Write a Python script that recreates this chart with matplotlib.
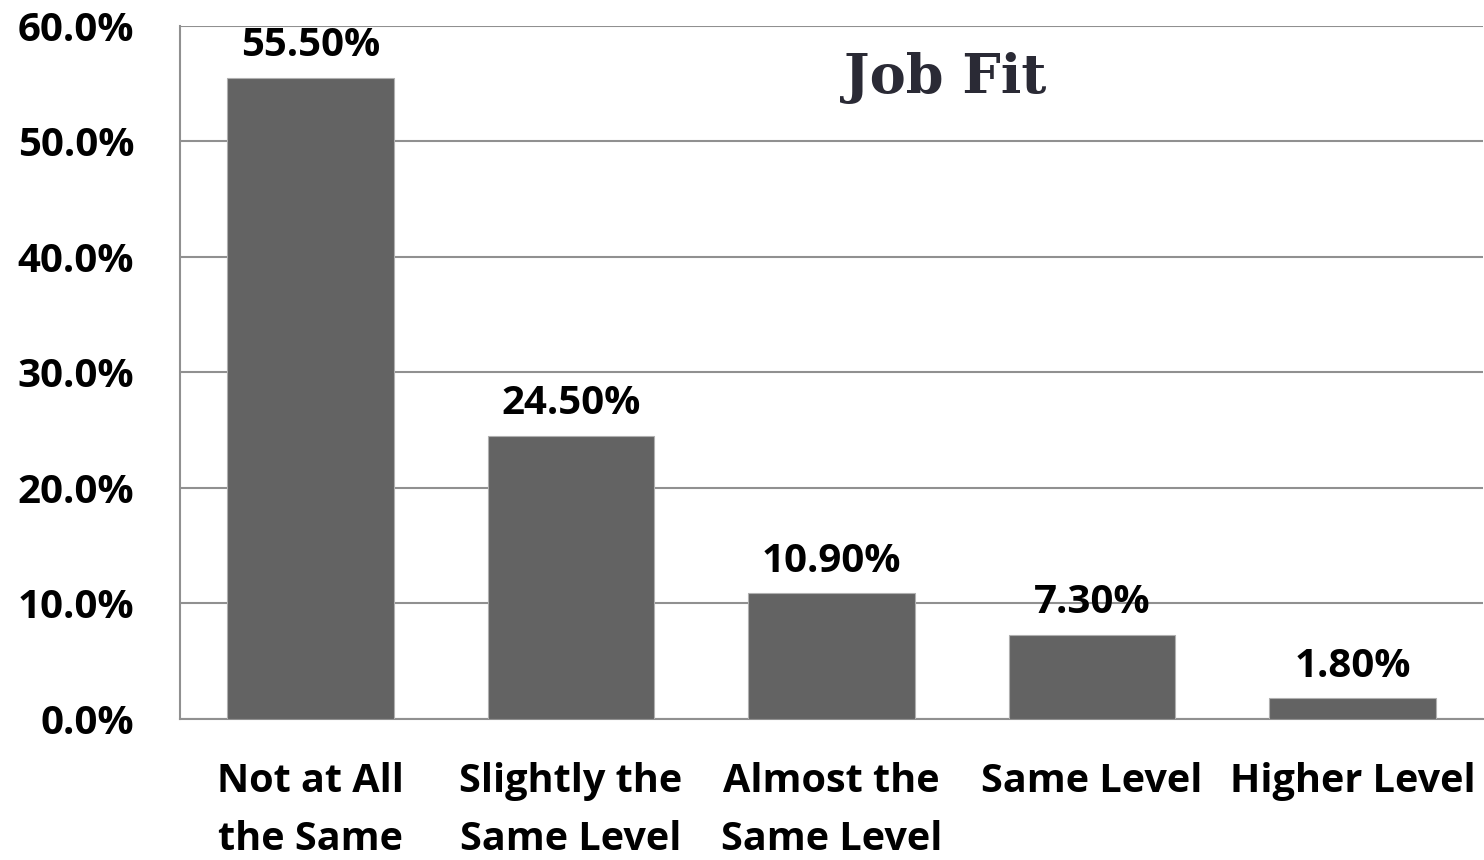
import numpy as np
import matplotlib.pyplot as plt
from matplotlib.ticker import FuncFormatter

# 数据
categories = ["Not at All\nthe Same", "Slightly the\nSame Level", "Almost the\nSame Level",
              "Same Level", "Higher Level"]
values = [55.5, 24.5, 10.9, 7.3, 1.8]
value_labels = ["55.50%", "24.50%", "10.90%", "7.30%", "1.80%"]

plt.rcParams["font.family"] = ["Open Sans", "DejaVu Sans"]

fig = plt.figure(figsize=(14.84, 8.6), dpi=100)
ax = fig.add_axes([0.1213, 0.164, 0.8780, 0.8058])

x = np.arange(len(categories))
bars = ax.bar(x, values, width=0.64, color="#636363", edgecolor="#b0b0b0", linewidth=0.8, zorder=3)

for b, lab in zip(bars, value_labels):
    ax.annotate(lab, (b.get_x() + b.get_width() / 2, b.get_height()),
                xytext=(0, 9), textcoords="offset points", ha="center", va="bottom",
                fontsize=29, fontweight="bold", color="black")

ax.set_xlim(-0.5, len(categories) - 0.5)
ax.set_ylim(0, 60)
ax.set_yticks(np.arange(0, 61, 10))
ax.yaxis.set_major_formatter(FuncFormatter(lambda v, p: f"{v:.1f}%"))
ax.grid(axis="y", color="#909090", linewidth=1.5, zorder=0)

ax.set_xticks(x)
ax.set_xticklabels(categories, fontsize=28.5, fontweight="bold", linespacing=1.62)
for t in ax.get_yticklabels():
    t.set_fontsize(29)
    t.set_fontweight("bold")
ax.tick_params(axis="both", length=0)
ax.tick_params(axis="x", pad=31)
ax.tick_params(axis="y", pad=33)

for s in ["top", "right"]:
    ax.spines[s].set_visible(False)
for s in ["left", "bottom"]:
    ax.spines[s].set_color("#909090")
    ax.spines[s].set_linewidth(1.5)

ax.text(0.587, 0.925, "Job Fit", transform=ax.transAxes, ha="center", va="center",
        fontsize=39, fontweight="bold", color="#2a2a35", family=["DejaVu Serif"])

fig.savefig("out.png", dpi=100)
